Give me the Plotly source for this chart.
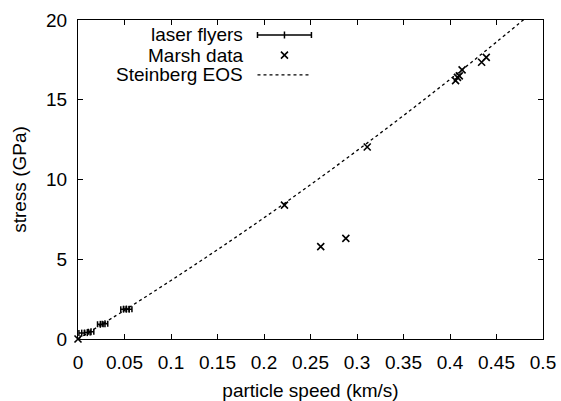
import plotly.graph_objects as go

# Laser-flyer measurements (particle speed km/s, stress GPa, speed uncertainty)
laser_u = [0.004, 0.010, 0.014, 0.024, 0.029, 0.049, 0.052, 0.055]
laser_s = [0.37, 0.40, 0.45, 0.92, 0.95, 1.87, 1.88, 1.87]
laser_du = [0.003, 0.003, 0.003, 0.003, 0.003, 0.003, 0.003, 0.003]

# Marsh Hugoniot data
marsh_u = [0.0, 0.222, 0.261, 0.288, 0.311, 0.406, 0.408, 0.410, 0.413, 0.434, 0.439]
marsh_s = [0.0, 8.39, 5.79, 6.31, 12.04, 16.2, 16.4, 16.5, 16.87, 17.35, 17.66]

# Steinberg EOS curve
eos_u = [0.0, 0.05, 0.10, 0.15, 0.20, 0.25, 0.30, 0.35, 0.40, 0.45, 0.50]
eos_s = [0.0, 1.80, 3.67, 5.60, 7.60, 9.67, 11.81, 14.01, 16.28, 18.62, 21.03]

x_ticks = [0, 0.05, 0.1, 0.15, 0.2, 0.25, 0.3, 0.35, 0.4, 0.45, 0.5]
x_labels = ["0", "0.05", "0.1", "0.15", "0.2", "0.25", "0.3", "0.35", "0.4", "0.45", "0.5"]
y_ticks = [0, 5, 10, 15, 20]
y_labels = ["0", "5", "10", "15", "20"]

FONT = "Liberation Sans, Arial, Helvetica, sans-serif"
FS = 19

fig = go.Figure()

fig.add_trace(go.Scatter(
    x=eos_u, y=eos_s, mode="lines", line_shape="spline",
    line=dict(color="black", width=1.3, dash="dot"),
    cliponaxis=True, showlegend=False))

fig.add_trace(go.Scatter(
    x=laser_u, y=laser_s, mode="markers",
    marker=dict(symbol="line-ns", size=5, color="black",
                line=dict(color="black", width=1.5)),
    error_x=dict(type="data", array=laser_du, visible=True,
                 color="black", thickness=1.5, width=3),
    showlegend=False))

fig.add_trace(go.Scatter(
    x=marsh_u, y=marsh_s, mode="markers",
    marker=dict(symbol="x-thin", size=7, color="black",
                line=dict(color="black", width=1.6)),
    cliponaxis=False, showlegend=False))

# Key drawn gnuplot-style: label on the left, sample on the right
key_labels = ["laser flyers", "Marsh data", "Steinberg EOS"]
key_y = [0.953, 0.890, 0.828]
key_text_x = 0.360
key_x0, key_x1 = 0.386, 0.502
key_xc = (key_x0 + key_x1) / 2

for lab, ky in zip(key_labels, key_y):
    fig.add_annotation(x=key_text_x, y=ky, xref="x domain", yref="y domain",
                       text=lab, showarrow=False, xanchor="right", yanchor="middle",
                       font=dict(family=FONT, size=FS, color="black"))

fig.add_trace(go.Scatter(
    x=[key_xc], y=[key_y[0]], xaxis="x2", yaxis="y2", mode="markers",
    marker=dict(symbol="line-ns", size=5, color="black",
                line=dict(color="black", width=1.5)),
    error_x=dict(type="constant", value=(key_x1 - key_x0) / 2, visible=True,
                 color="black", thickness=1.5, width=3),
    showlegend=False, hoverinfo="skip"))
fig.add_trace(go.Scatter(
    x=[key_xc], y=[key_y[1]], xaxis="x2", yaxis="y2", mode="markers",
    marker=dict(symbol="x-thin", size=7, color="black",
                line=dict(color="black", width=1.6)),
    showlegend=False, hoverinfo="skip"))
fig.add_trace(go.Scatter(
    x=[key_x0, key_x1], y=[key_y[2], key_y[2]], xaxis="x2", yaxis="y2", mode="lines",
    line=dict(color="black", width=1.3, dash="dot"),
    showlegend=False, hoverinfo="skip"))

axis_common = dict(
    showgrid=False, zeroline=False, showline=True, linecolor="black", linewidth=1.3,
    mirror="ticks", ticks="inside", ticklen=5, tickcolor="black", tickwidth=1,
    tickfont=dict(family=FONT, size=FS, color="black"), automargin=False,
)

fig.update_layout(
    width=561, height=401,
    margin=dict(l=78, r=18, t=20, b=62),
    paper_bgcolor="white", plot_bgcolor="white",
    font=dict(family=FONT, size=FS, color="black"),
    xaxis=dict(range=[0, 0.5], tickvals=x_ticks, ticktext=x_labels,
               ticklabelstandoff=6,
               title=dict(text="particle speed (km/s)", standoff=12,
                          font=dict(family=FONT, size=FS)),
               **axis_common),
    yaxis=dict(range=[0, 20], tickvals=y_ticks, ticktext=y_labels,
               ticklabelstandoff=6,
               title=dict(text="stress (GPa)", standoff=14,
                          font=dict(family=FONT, size=FS)),
               **axis_common),
    xaxis2=dict(overlaying="x", range=[0, 1], visible=False, fixedrange=True),
    yaxis2=dict(overlaying="y", range=[0, 1], visible=False, fixedrange=True),
    showlegend=False,
)

fig.write_html("out.html")
